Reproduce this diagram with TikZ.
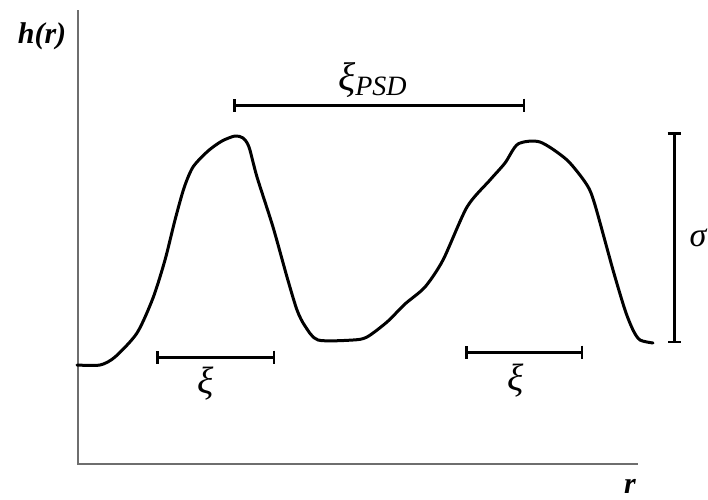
\documentclass[tikz,border=0pt]{standalone}
\usepackage{fontspec}
\setmainfont{Liberation Serif}
\usetikzlibrary{arrows.meta}
\begin{document}
\begin{tikzpicture}[x=1pt,y=-1pt,
  axisline/.style={line width=2pt,draw={rgb,255:red,110;green,110;blue,110}},
  curveline/.style={line width=3pt,line join=round,line cap=round},
  barline/.style={line width=3pt,{Bar[width=13pt,line width=2.5pt]}-{Bar[width=13pt,line width=2.5pt]}},
  lbl/.style={inner sep=0pt,font=\fontsize{30}{34}\selectfont}]
\useasboundingbox (0,0) rectangle (708,499);
% axes
\coordinate (top) at (78,10);
\coordinate (origin) at (78,464);
\coordinate (right) at (638,464);
\draw[axisline] (top) -- (origin) -- (right);
\node[lbl] (hr) at (42,36) {\bfseries\itshape h(r)};
\node[lbl] (rr) at (630,486) {\bfseries\itshape r};
% curve
\draw[curveline] plot[smooth,tension=0.45] coordinates {
 (77,365) (100,365) (115,357) (137,333) (153,298) (165,260) (175,220) (184,188)
 (193,167) (208,151) (222,141) (235,136) (243,138) (249,147) (257,177) (273,227)
 (287,277) (297,310) (305,326) (318,340) (353,340) (367,337) (387,322) (405,304)
 (425,287) (443,260) (467,207) (490,180) (505,163) (518,144) (540,142) (567,160)
 (587,185) (595,205) (613,270) (625,310) (633,330) (640,340) (653,343)};
% xi_PSD bar
\coordinate (p1) at (233,105);
\coordinate (p2) at (525,105);
\draw[barline] (p1) -- (p2);
\node[lbl,anchor=base west] (xipsd) at (338,90)
  {\itshape\fontsize{40}{44}\selectfont ξ\fontsize{28}{32}\selectfont\raisebox{-5pt}{PSD}};
% sigma bar
\coordinate (s1) at (674,132);
\coordinate (s2) at (674,343);
\draw[barline] (s1) -- (s2);
\node[lbl,font=\fontsize{34}{38}\selectfont\itshape] (sig) at (698,238) {σ};
% xi bars
\coordinate (a1) at (156,357);
\coordinate (a2) at (275,357);
\draw[barline] (a1) -- (a2);
\node[lbl,font=\fontsize{38}{42}\selectfont\itshape] (xia) at (206,384) {ξ};
\coordinate (b1) at (465,352);
\coordinate (b2) at (583,352);
\draw[barline] (b1) -- (b2);
\node[lbl,font=\fontsize{38}{42}\selectfont\itshape] (xib) at (516,381) {ξ};
\end{tikzpicture}
\end{document}
